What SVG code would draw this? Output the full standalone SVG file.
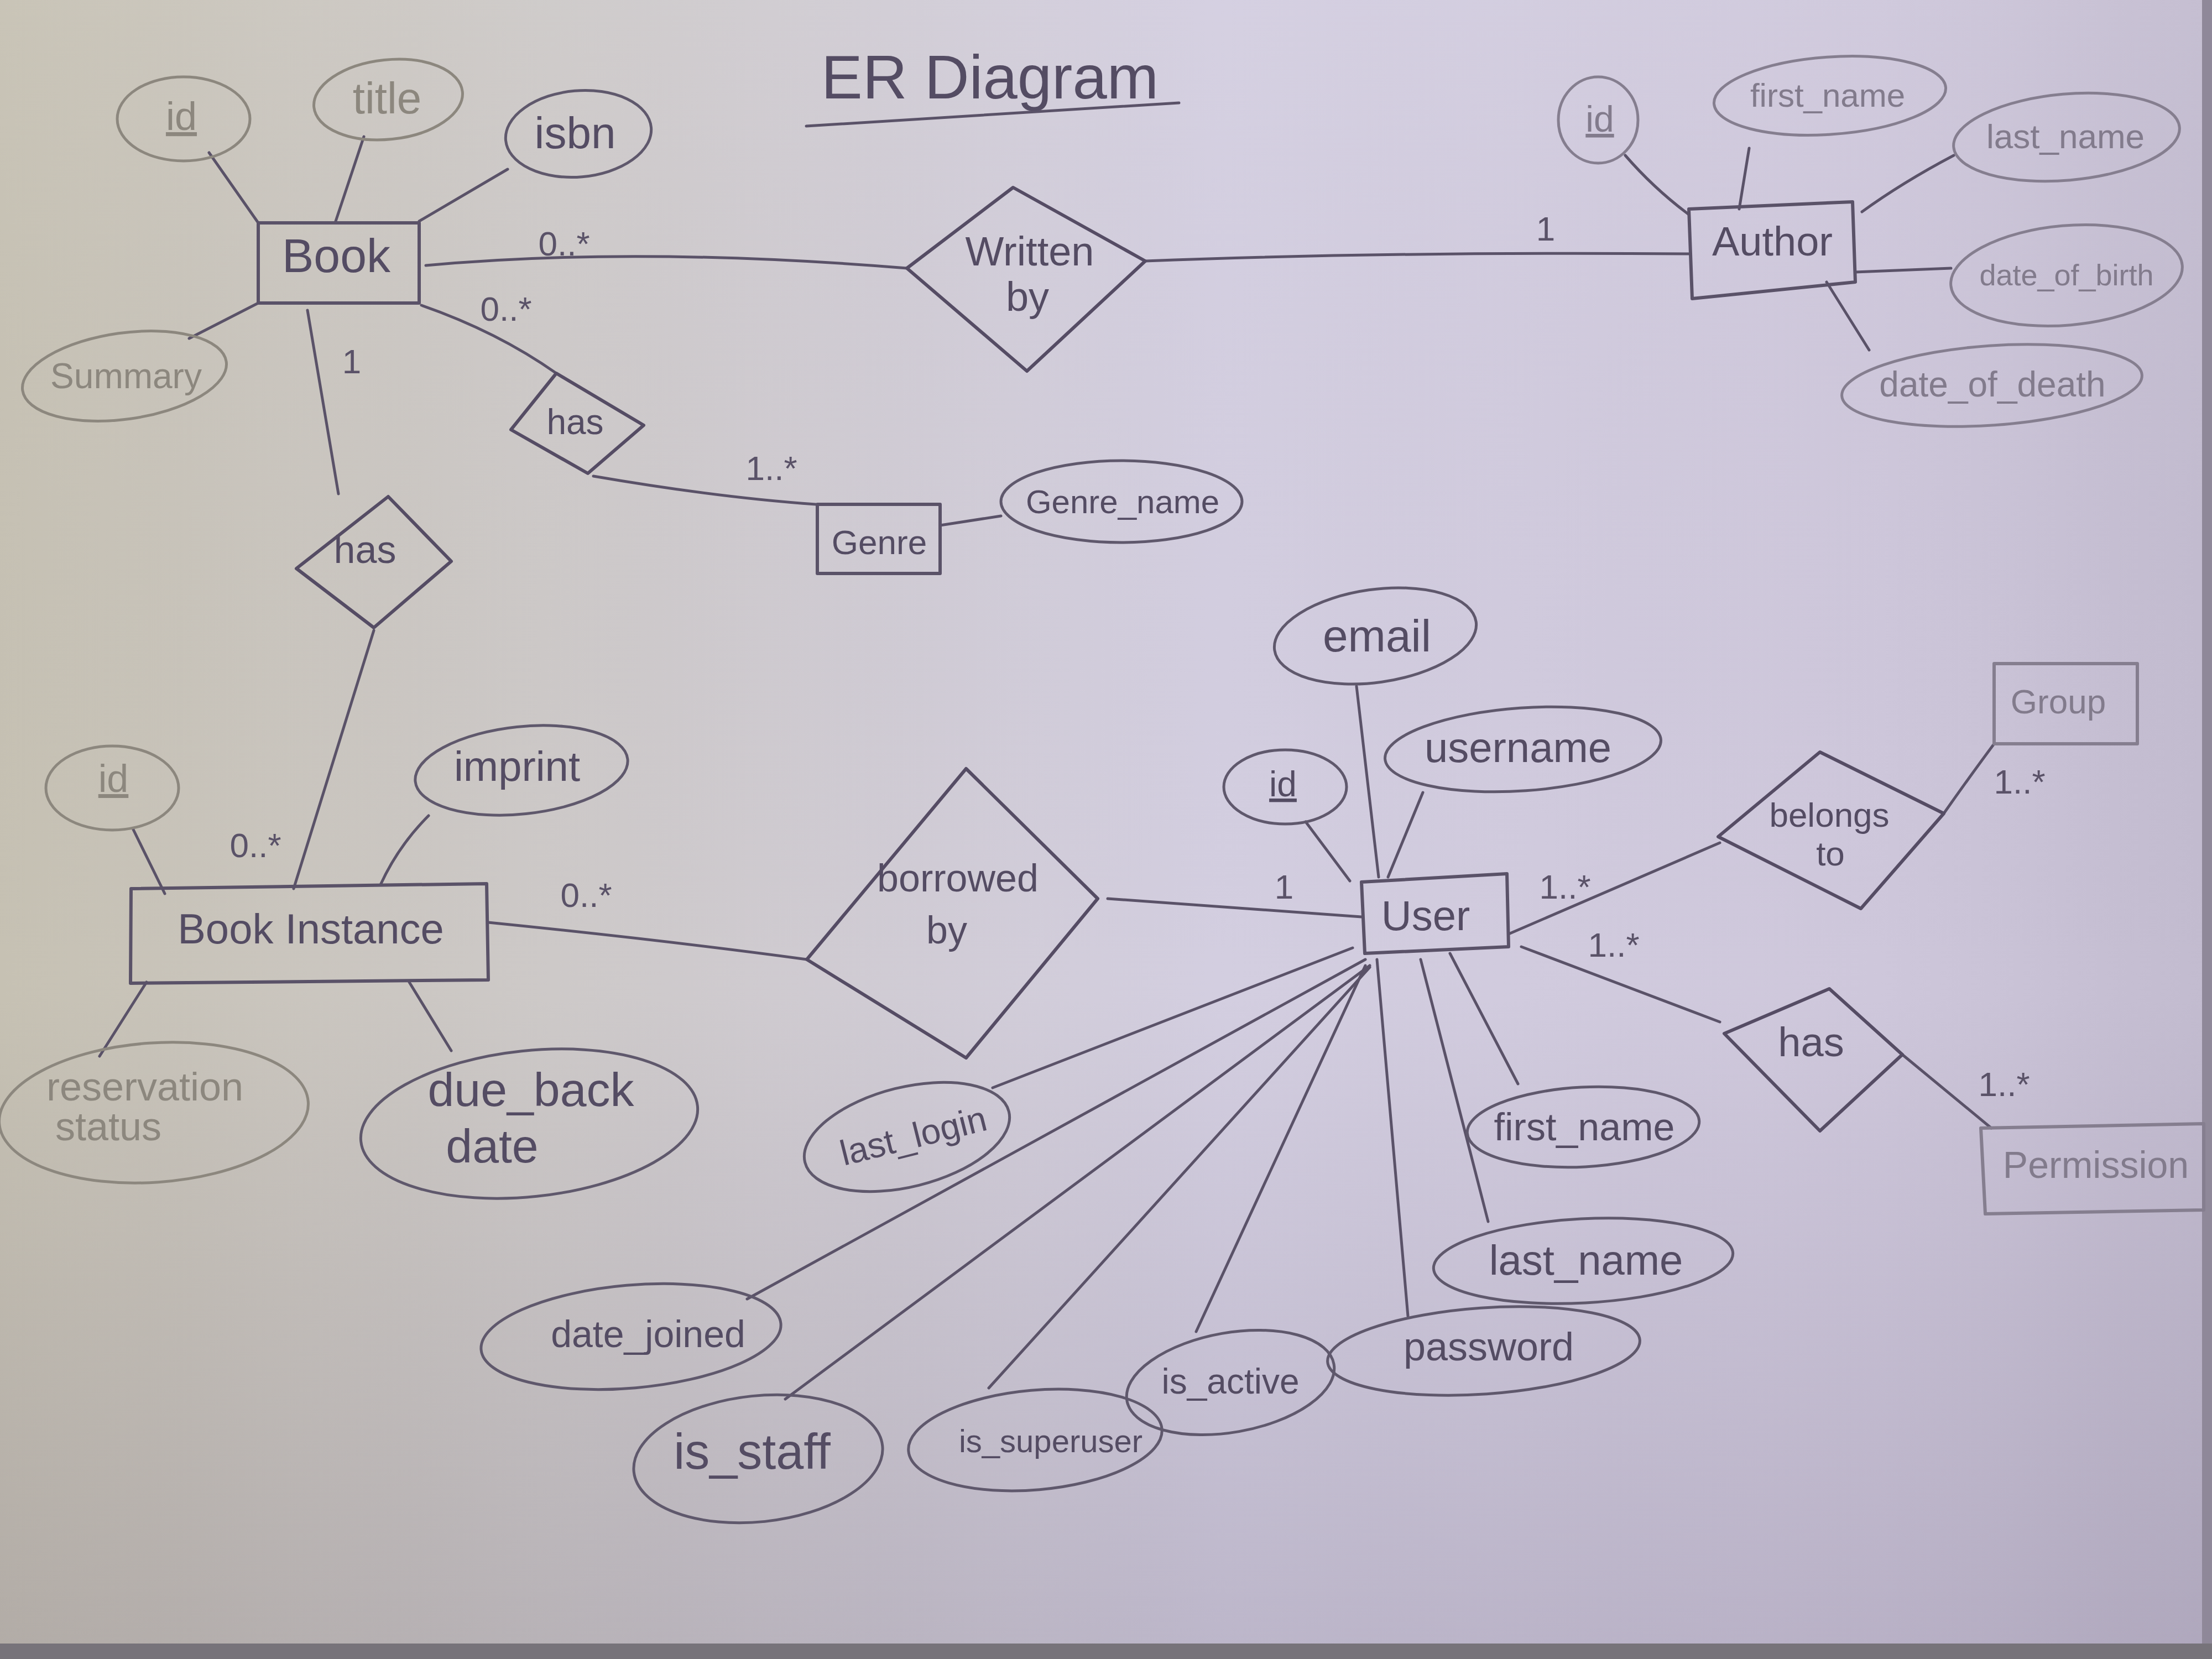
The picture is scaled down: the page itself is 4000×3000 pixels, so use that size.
<svg xmlns="http://www.w3.org/2000/svg" width="4000" height="3000" viewBox="0 0 4000 3000">
<defs>
<linearGradient id="paper" x1="0" y1="0" x2="1" y2="0">
<stop offset="0" stop-color="#c6c1b3"/>
<stop offset="0.25" stop-color="#cdc9c8"/>
<stop offset="0.55" stop-color="#d3cee0"/>
<stop offset="0.85" stop-color="#cec7db"/>
<stop offset="1" stop-color="#c2bbcf"/>
</linearGradient>
<linearGradient id="shade" x1="0" y1="0" x2="0" y2="1">
<stop offset="0" stop-color="#ffffff" stop-opacity="0.05"/>
<stop offset="0.6" stop-color="#6a607a" stop-opacity="0"/>
<stop offset="1" stop-color="#6a607a" stop-opacity="0.22"/>
</linearGradient>
<style>
.ln{fill:none;stroke:#5a5268;stroke-width:5;stroke-linecap:round;stroke-linejoin:round}
.ent{fill:none;stroke:#5a5268;stroke-width:6;stroke-linejoin:round}
.attr{fill:none;stroke:#5f586c;stroke-width:5}
.rel{fill:none;stroke:#554c64;stroke-width:6;stroke-linejoin:round}
.fl .attr,.fl .ent,.fl .ln{stroke:#8c877e}
.fr .attr,.fr .ent,.fr .ln{stroke:#857e8f}
text{font-family:"Liberation Sans","DejaVu Sans",sans-serif;fill:#544c63;text-anchor:middle}
.fl text{fill:#8c877e}
.fr text{fill:#827b8c}
.card{font-size:62px;fill:#5a5268}
.u{text-decoration:underline}
</style>
</defs>
<rect x="0" y="0" width="4000" height="3000" fill="url(#paper)"/>
<rect x="0" y="0" width="4000" height="3000" fill="url(#shade)"/>
<rect x="0" y="2972" width="4000" height="28" fill="#77737a"/>
<rect x="3982" y="0" width="18" height="2972" fill="#8f8899"/>

<g id="title">
<text x="1790" y="178" font-size="112">ER Diagram</text>
<path class="ln" d="M1458 228 L2132 186"/>
</g>

<g id="connectors">
<!-- Book attributes -->
<path class="ln" d="M378 276 L467 403"/>
<path class="ln" d="M658 247 L607 400"/>
<path class="ln" d="M918 306 L758 400"/>
<path class="ln" d="M342 612 L467 548"/>
<!-- Book - Written by - Author -->
<path class="ln" d="M770 480 Q1150 445 1640 485"/>
<path class="ln" d="M2071 472 Q2500 455 3054 459"/>
<!-- Book - has - Genre -->
<path class="ln" d="M762 552 Q900 600 1006 675"/>
<path class="ln" d="M1073 861 Q1300 900 1475 912"/>
<path class="ln" d="M1700 950 L1810 933"/>
<!-- Book - has - BookInstance -->
<path class="ln" d="M556 561 L612 893"/>
<path class="ln" d="M676 1140 L531 1607"/>
<!-- Author attributes -->
<path class="ln" d="M2939 281 Q2990 340 3054 388"/>
<path class="ln" d="M3163 268 L3145 378"/>
<path class="ln" d="M3533 281 Q3440 330 3367 383"/>
<path class="ln" d="M3355 492 L3528 485"/>
<path class="ln" d="M3303 510 L3380 633"/>
<!-- BookInstance attributes -->
<path class="ln" d="M240 1498 L298 1616"/>
<path class="ln" d="M775 1475 Q720 1530 688 1600"/>
<path class="ln" d="M265 1776 L180 1910"/>
<path class="ln" d="M740 1776 L816 1900"/>
<!-- BookInstance - borrowed by - User -->
<path class="ln" d="M883 1668 Q1200 1700 1459 1735"/>
<path class="ln" d="M2003 1625 L2462 1658"/>
<!-- User top attributes -->
<path class="ln" d="M2453 1241 L2493 1586"/>
<path class="ln" d="M2361 1486 L2441 1593"/>
<path class="ln" d="M2573 1433 L2510 1586"/>
<!-- User - belongs to - Group -->
<path class="ln" d="M2728 1689 L3110 1524"/>
<path class="ln" d="M3515 1471 Q3565 1400 3606 1345"/>
<!-- User - has - Permission -->
<path class="ln" d="M2751 1712 L3110 1848"/>
<path class="ln" d="M3440 1907 L3601 2040"/>
<!-- User bottom attributes -->
<path class="ln" d="M2622 1724 L2745 1960"/>
<path class="ln" d="M2569 1735 L2691 2209"/>
<path class="ln" d="M2490 1735 L2546 2380"/>
<path class="ln" d="M2469 1746 L2163 2408"/>
<path class="ln" d="M2477 1749 L1788 2510"/>
<path class="ln" d="M2477 1746 L1420 2530"/>
<path class="ln" d="M2469 1735 L1351 2349"/>
<path class="ln" d="M2446 1714 L1795 1967"/>
<!-- cardinalities -->
<text class="card" x="1020" y="462">0..*</text>
<text class="card" x="915" y="580">0..*</text>
<text class="card" x="2795" y="435">1</text>
<text class="card" x="636" y="675">1</text>
<text class="card" x="1395" y="868">1..*</text>
<text class="card" x="462" y="1550">0..*</text>
<text class="card" x="1060" y="1640">0..*</text>
<text class="card" x="2322" y="1625">1</text>
<text class="card" x="2830" y="1625">1..*</text>
<text class="card" x="2918" y="1730">1..*</text>
<text class="card" x="3652" y="1435" font-size="52">1..*</text>
<text class="card" x="3624" y="1982" font-size="52">1..*</text>
</g>

<g id="book">
<rect class="ent" x="467" y="403" width="291" height="145"/>
<text x="608" y="492" font-size="86">Book</text>
</g>
<g id="book-id" class="fl">
<ellipse class="attr" cx="332" cy="215" rx="120" ry="76"/>
<text class="u" x="328" y="235" font-size="72">id</text>
</g>
<g id="book-title" class="fl">
<ellipse class="attr" cx="702" cy="180" rx="135" ry="72" transform="rotate(-6 702 180)"/>
<text x="700" y="205" font-size="80">title</text>
</g>
<g id="book-isbn">
<ellipse class="attr" cx="1046" cy="242" rx="132" ry="78" transform="rotate(-5 1046 242)"/>
<text x="1040" y="268" font-size="80">isbn</text>
</g>
<g id="book-summary" class="fl">
<ellipse class="attr" cx="225" cy="680" rx="186" ry="78" transform="rotate(-8 225 680)"/>
<text x="228" y="702" font-size="64">Summary</text>
</g>

<g id="written-by">
<polygon class="rel" points="1640,485 1832,339 2071,472 1857,671"/>
<text x="1862" y="480" font-size="74">Written</text>
<text x="1858" y="562" font-size="74">by</text>
</g>

<g id="author">
<polygon class="ent" points="3054,378 3350,365 3355,510 3060,540"/>
<text x="3205" y="462" font-size="74">Author</text>
</g>
<g id="author-id" class="fr">
<ellipse class="attr" cx="2890" cy="217" rx="72" ry="78"/>
<text class="u" x="2893" y="238" font-size="66">id</text>
</g>
<g id="author-first-name" class="fr">
<ellipse class="attr" cx="3309" cy="173" rx="210" ry="70" transform="rotate(-4 3309 173)"/>
<text x="3305" y="193" font-size="60">first_name</text>
</g>
<g id="author-last-name" class="fr">
<ellipse class="attr" cx="3737" cy="248" rx="205" ry="78" transform="rotate(-5 3737 248)"/>
<text x="3735" y="268" font-size="62">last_name</text>
</g>
<g id="author-dob" class="fr">
<ellipse class="attr" cx="3737" cy="498" rx="210" ry="90" transform="rotate(-5 3737 498)"/>
<text x="3737" y="516" font-size="54">date_of_birth</text>
</g>
<g id="author-dod" class="fr">
<ellipse class="attr" cx="3602" cy="697" rx="272" ry="72" transform="rotate(-4 3602 697)"/>
<text x="3603" y="717" font-size="64">date_of_death</text>
</g>

<g id="has-genre">
<polygon class="rel" points="1006,675 1164,769 1063,856 924,777"/>
<text x="1040" y="785" font-size="64">has</text>
</g>
<g id="genre">
<rect class="ent" x="1478" y="912" width="222" height="125"/>
<text x="1590" y="1002" font-size="62">Genre</text>
</g>
<g id="genre-name">
<ellipse class="attr" cx="2028" cy="907" rx="218" ry="74"/>
<text x="2030" y="928" font-size="60">Genre_name</text>
</g>

<g id="has-instance">
<polygon class="rel" points="536,1028 702,898 816,1015 676,1135"/>
<text x="660" y="1018" font-size="70">has</text>
</g>

<g id="book-instance">
<polygon class="ent" points="237,1607 880,1598 883,1772 236,1778"/>
<text x="562" y="1706" font-size="76">Book Instance</text>
</g>
<g id="bi-id" class="fl">
<ellipse class="attr" cx="203" cy="1425" rx="120" ry="76"/>
<text class="u" x="205" y="1432" font-size="70">id</text>
</g>
<g id="bi-imprint">
<ellipse class="attr" cx="943" cy="1393" rx="193" ry="79" transform="rotate(-6 943 1393)"/>
<text x="935" y="1412" font-size="76">imprint</text>
</g>
<g id="bi-reservation" class="fl">
<ellipse class="attr" cx="278" cy="2012" rx="280" ry="126" transform="rotate(-4 278 2012)"/>
<text x="262" y="1990" font-size="72">reservation</text>
<text x="196" y="2062" font-size="72">status</text>
</g>
<g id="bi-due-back">
<ellipse class="attr" cx="957" cy="2032" rx="306" ry="132" transform="rotate(-6 957 2032)"/>
<text x="960" y="2000" font-size="86">due_back</text>
<text x="890" y="2102" font-size="86">date</text>
</g>

<g id="borrowed-by">
<polygon class="rel" points="1459,1735 1747,1390 1985,1625 1747,1913"/>
<text x="1732" y="1612" font-size="70">borrowed</text>
<text x="1712" y="1706" font-size="70">by</text>
</g>

<g id="user">
<polygon class="ent" points="2462,1595 2725,1580 2728,1712 2468,1724"/>
<text x="2578" y="1682" font-size="76">User</text>
</g>
<g id="user-email">
<ellipse class="attr" cx="2487" cy="1150" rx="184" ry="84" transform="rotate(-8 2487 1150)"/>
<text x="2490" y="1178" font-size="82">email</text>
</g>
<g id="user-id">
<ellipse class="attr" cx="2324" cy="1423" rx="111" ry="67"/>
<text class="u" x="2320" y="1440" font-size="64">id</text>
</g>
<g id="user-username">
<ellipse class="attr" cx="2754" cy="1355" rx="250" ry="75" transform="rotate(-4 2754 1355)"/>
<text x="2745" y="1378" font-size="76">username</text>
</g>

<g id="belongs-to">
<polygon class="rel" points="3107,1513 3291,1360 3515,1471 3365,1643"/>
<text x="3308" y="1495" font-size="62">belongs</text>
<text x="3310" y="1565" font-size="62">to</text>
</g>
<g id="group" class="fr">
<rect class="ent" x="3606" y="1200" width="259" height="145"/>
<text x="3722" y="1290" font-size="62">Group</text>
</g>

<g id="has-permission">
<polygon class="rel" points="3118,1869 3308,1788 3440,1907 3291,2045"/>
<text x="3275" y="1910" font-size="74">has</text>
</g>
<g id="permission" class="fr">
<polygon class="ent" points="3582,2040 3985,2032 3985,2188 3590,2195"/>
<text x="3790" y="2130" font-size="68">Permission</text>
</g>

<g id="user-first-name">
<ellipse class="attr" cx="2863" cy="2038" rx="210" ry="72" transform="rotate(-3 2863 2038)"/>
<text x="2865" y="2062" font-size="70">first_name</text>
</g>
<g id="user-last-name">
<ellipse class="attr" cx="2863" cy="2280" rx="271" ry="76" transform="rotate(-3 2863 2280)"/>
<text x="2868" y="2305" font-size="76">last_name</text>
</g>
<g id="user-password">
<ellipse class="attr" cx="2683" cy="2443" rx="283" ry="78" transform="rotate(-4 2683 2443)"/>
<text x="2692" y="2460" font-size="72">password</text>
</g>
<g id="user-is-active">
<ellipse class="attr" cx="2225" cy="2500" rx="190" ry="90" transform="rotate(-10 2225 2500)"/>
<text x="2225" y="2520" font-size="64">is_active</text>
</g>
<g id="user-is-superuser">
<ellipse class="attr" cx="1872" cy="2604" rx="230" ry="90" transform="rotate(-5 1872 2604)"/>
<text x="1900" y="2626" font-size="58">is_superuser</text>
</g>
<g id="user-is-staff">
<ellipse class="attr" cx="1371" cy="2638" rx="226" ry="114" transform="rotate(-6 1371 2638)"/>
<text x="1360" y="2656" font-size="90">is_staff</text>
</g>
<g id="user-date-joined">
<ellipse class="attr" cx="1141" cy="2417" rx="272" ry="93" transform="rotate(-5 1141 2417)"/>
<text x="1172" y="2436" font-size="68">date_joined</text>
</g>
<g id="user-last-login">
<ellipse class="attr" cx="1640" cy="2056" rx="190" ry="90" transform="rotate(-14 1640 2056)"/>
<text x="1652" y="2076" font-size="64" transform="rotate(-14 1652 2056)">last_login</text>
</g>
</svg>
